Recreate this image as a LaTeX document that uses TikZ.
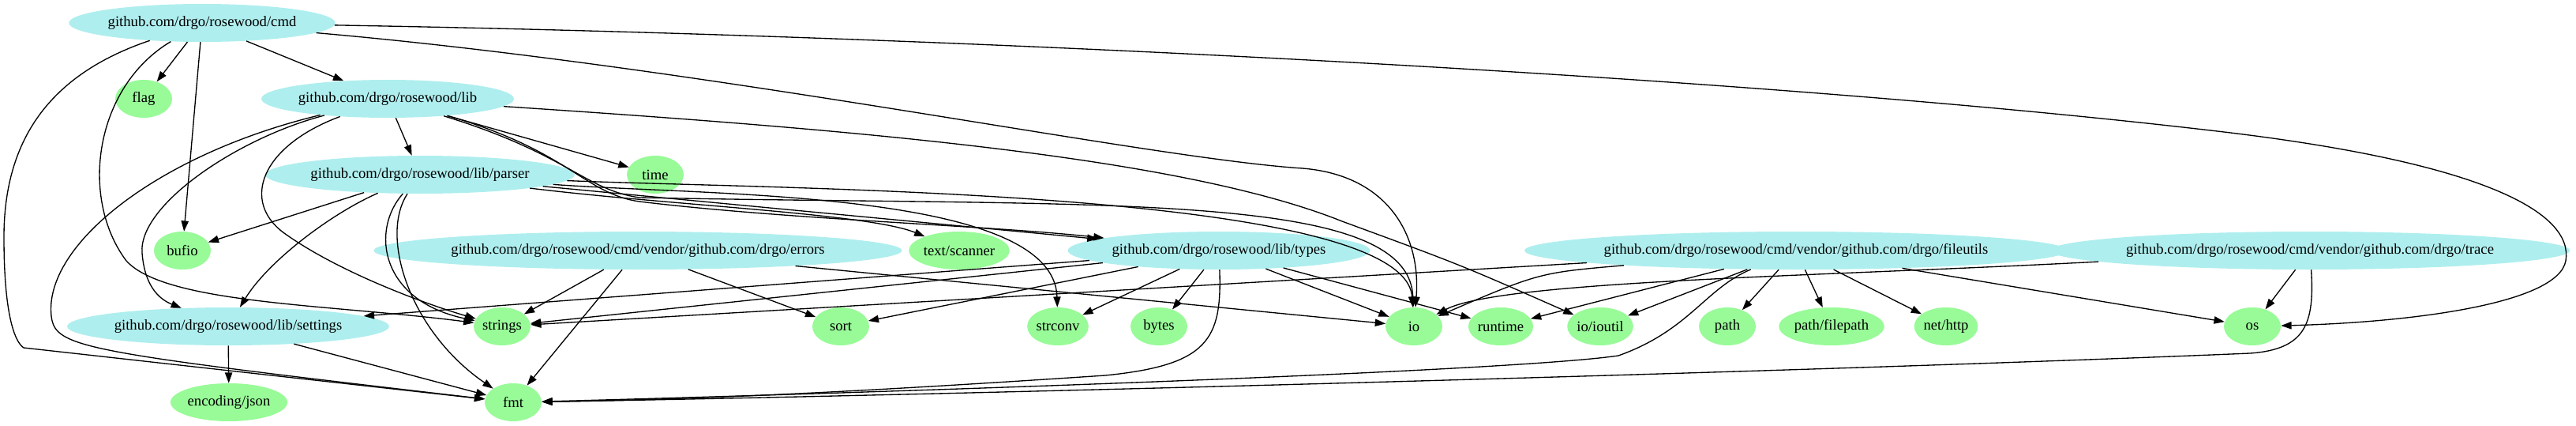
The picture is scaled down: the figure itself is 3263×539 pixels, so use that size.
\documentclass[tikz,border=0pt]{standalone}
\usepackage{fontspec}
\setmainfont{Liberation Serif}
\usepackage{tikz}
\usetikzlibrary{shapes.geometric, arrows.meta}
\definecolor{pkgcol}{RGB}{175,238,238}
\definecolor{stdcol}{RGB}{152,251,152}
\tikzset{
  pkg/.style = {ellipse, fill=pkgcol, inner sep=0pt, minimum width=54pt, minimum height=36pt, font=\fontsize{14}{16}\selectfont},
  std/.style = {pkg, fill=stdcol},
  dep/.style = {-{Triangle[length=10pt, width=7pt]}, line width=1pt},
}

\begin{document}
\begin{tikzpicture}[x=0.75pt, y=-0.75pt]
			\useasboundingbox (0,0) rectangle (3263,539);

			\begin{scope}
				\node[pkg] (cmd) at (256,29) {github.com/drgo/rosewood/cmd};
				\node[std] (flag) at (182,125) {flag};
				\node[pkg] (lib) at (491,125) {github.com/drgo/rosewood/lib};
				\node[pkg] (parser) at (532,221) {github.com/drgo/rosewood/lib/parser};
				\node[std] (time) at (830,221) {time};
				\node[std] (bufio) at (231,317) {bufio};
				\node[pkg] (errors) at (808,317) {github.com/drgo/rosewood/cmd/vendor/github.com/drgo/errors};
				\node[std] (scanner) at (1215,317) {text/scanner};
				\node[pkg] (types) at (1544,317) {github.com/drgo/rosewood/lib/types};
				\node[pkg] (fileutils) at (2275,317) {github.com/drgo/rosewood/cmd/vendor/github.com/drgo/fileutils};
				\node[pkg] (trace) at (2926,317) {github.com/drgo/rosewood/cmd/vendor/github.com/drgo/trace};
				\node[pkg] (settings) at (289,413) {github.com/drgo/rosewood/lib/settings};
				\node[std] (strings) at (636,413) {strings};
				\node[std] (sort) at (1065,413) {sort};
				\node[std] (strconv) at (1340,413) {strconv};
				\node[std] (bytes) at (1468,413) {bytes};
				\node[std] (io) at (1791,413) {io};
				\node[std] (runtime) at (1901,413) {runtime};
				\node[std] (ioutil) at (2027,413) {io/ioutil};
				\node[std] (path) at (2188,413) {path};
				\node[std] (filepath) at (2320,413) {path/filepath};
				\node[std] (nethttp) at (2465,413) {net/http};
				\node[std] (os) at (2853,413) {os};
				\node[std] (json) at (290,509) {encoding/json};
				\node[std] (fmt) at (650,509) {fmt};
			\end{scope}

			\begin{scope}[dep]
				\draw (cmd) -- (flag);
				\draw (cmd) -- (lib);
				\draw (cmd) -- (bufio);
				\draw (cmd) .. controls (60,95) and (5,180) .. (5,300) .. controls (5,410) and (22,435) .. (30,440) -- (fmt);
				\draw (cmd) .. controls (120,110) and (100,250) .. (160,330) .. controls (210,385) and (420,385) .. (strings);
				\draw (cmd) .. controls (900,85) and (1450,200) .. (1650,213) .. controls (1760,222) and (1800,300) .. (io);
				\draw (cmd) .. controls (1200,45) and (2200,95) .. (2800,165) .. controls (3150,205) and (3260,270) .. (3250,330) .. controls (3240,385) and (3050,408) .. (os);

				\draw (lib) -- (parser);
				\draw (lib) -- (time);
				\draw (lib) .. controls (300,175) and (175,260) .. (180,320) .. controls (183,360) and (200,378) .. (settings);
				\draw (lib) .. controls (330,185) and (305,255) .. (360,295) .. controls (430,345) and (540,385) .. (strings);
				\draw (lib) .. controls (200,195) and (55,310) .. (65,400) .. controls (70,440) and (100,445) .. (fmt);
				\draw (lib) .. controls (720,190) and (740,245) .. (810,255) .. controls (1000,278) and (1250,285) .. (types);
				\draw (lib) .. controls (720,195) and (740,240) .. (810,250) .. controls (1400,262) and (1785,240) .. (io);
				\draw (lib) .. controls (1100,165) and (1500,200) .. (1700,280) .. controls (1850,335) .. (ioutil);

				\draw (parser) -- (bufio);
				\draw (parser) -- (types);
				\draw (parser) .. controls (420,270) and (340,330) .. (settings);
				\draw (parser) .. controls (470,290) and (480,380) .. (strings);
				\draw (parser) .. controls (480,300) and (520,420) .. (fmt);
				\draw (parser) .. controls (850,260) and (1100,270) .. (scanner);
				\draw (parser) .. controls (1000,240) and (1780,240) .. (io);
				\draw (parser) .. controls (900,248) and (1335,240) .. (strconv);

				\draw (errors) -- (strings);
				\draw (errors) -- (sort);
				\draw (errors) -- (fmt);
				\draw (errors) -- (io);

				\draw (types) -- (settings);
				\draw (types) -- (strings);
				\draw (types) -- (sort);
				\draw (types) -- (strconv);
				\draw (types) -- (bytes);
				\draw (types) -- (io);
				\draw (types) -- (runtime);
				\draw (types) .. controls (1548,430) and (1530,462) .. (1400,475) .. controls (1100,495) and (900,505) .. (fmt);

				\draw (fileutils) -- (strings);
				\draw (fileutils) .. controls (1950,345) .. (io);
				\draw (fileutils) -- (runtime);
				\draw (fileutils) -- (ioutil);
				\draw (fileutils) -- (path);
				\draw (fileutils) -- (filepath);
				\draw (fileutils) -- (nethttp);
				\draw (fileutils) -- (os);
				\draw (fileutils) .. controls (2160,365) and (2140,418) .. (2050,450) .. controls (1900,472) and (1000,500) .. (fmt);

				\draw (trace) .. controls (2300,350) and (1900,355) .. (io);
				\draw (trace) -- (os);
				\draw (trace) .. controls (2932,410) and (2920,442) .. (2850,447) .. controls (2300,470) and (1200,500) .. (fmt);

				\draw (settings) -- (json);
				\draw (settings) -- (fmt);
			\end{scope}
		\end{tikzpicture}
\end{document}
